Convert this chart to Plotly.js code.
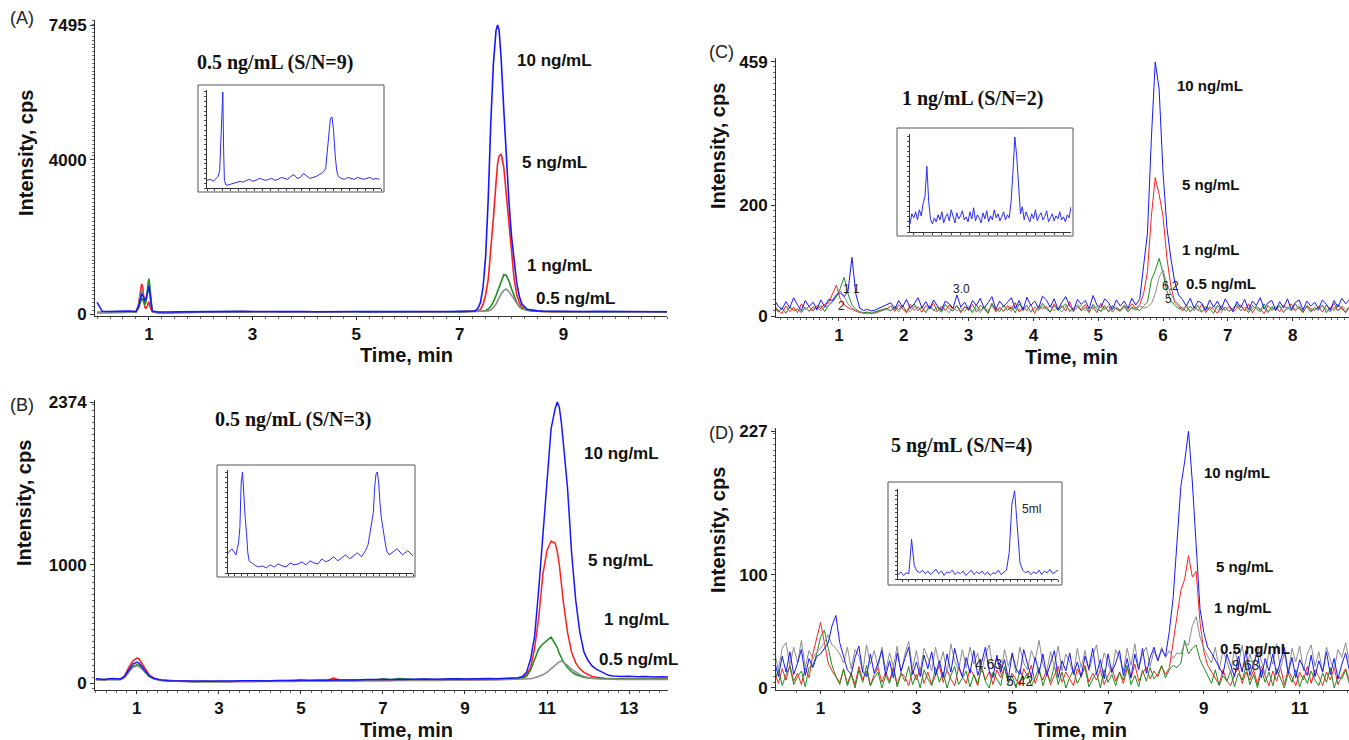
<!DOCTYPE html>
<html><head><meta charset="utf-8">
<script src="https://cdn.plot.ly/plotly-3.0.1.min.js"></script>
<style>html,body{margin:0;padding:0;background:#fff}#chart{width:1349px;height:740px}</style>
</head><body><div id="chart"></div>
<script>
// ---------------- DATA ----------------
// Panel A (time, min / intensity, cps)
const tA = [0,0.1,0.2,0.3,0.4,0.5,0.6,0.7,
 0.75,0.8,0.83,0.86,0.88,
 0.9,0.92,0.94,0.96,0.98,1.0,1.02,1.04,1.06,1.08,1.1,
 1.15,1.2,1.3,1.4,
 1.6,1.8,2.0,2.2,2.4,2.6,2.8,3.0,3.2,3.4,3.6,3.8,4.0,4.2,4.4,4.6,4.8,5.0,5.2,5.4,5.6,5.8,6.0,6.2,6.4,6.6,6.8,7.0,
 7.1,7.2,7.3,
 7.35,7.4,7.45,7.5,7.55,7.6,7.65,7.7,7.73,7.76,
 7.8,7.85,7.9,7.95,8.0,8.05,8.1,8.15,8.2,
 8.3,8.4,8.5,8.6,
 8.8,9.0,9.2,9.4,9.6,9.8,10.0,10.2,10.4,10.6,10.8,11.0];
const redA = [40,45,50,42,48,55,50,60,
 60,250,600,780,700,
 350,180,150,180,250,320,200,100,60,50,45,
 40,35,30,35,
 40,45,50,55,48,52,60,55,50,58,52,55,50,48,55,52,50,54,48,52,50,55,52,48,50,55,52,60,
 60,62,70,
 80,120,250,500,900,1600,2500,3400,3900,4100,
 4150,3800,3100,2300,1500,900,500,300,180,
 100,80,70,65,
 60,55,58,52,55,50,52,55,50,48,52,50];
const greenA = [35,40,38,45,40,42,45,50,
 50,150,300,400,380,
 300,250,280,450,750,920,700,300,120,60,50,
 40,35,30,32,
 45,50,55,60,58,55,62,58,55,60,56,52,55,50,58,55,52,50,55,52,50,54,55,50,52,58,55,62,
 60,58,62,
 60,60,70,90,130,200,320,480,600,720,
 880,1020,1000,850,650,450,300,200,140,
 100,80,70,65,
 58,55,52,55,50,52,48,50,52,48,50,48];
const grayA = [45,40,48,42,45,50,48,50,
 50,200,500,620,560,
 450,350,380,500,620,680,500,220,90,60,50,
 40,38,32,35,
 40,45,48,50,45,48,52,50,46,50,48,45,50,48,52,50,46,48,52,50,48,50,52,48,50,52,55,58,
 60,58,60,
 60,58,60,65,80,110,170,260,340,420,
 520,610,650,580,480,370,260,180,130,
 110,90,80,70,
 60,55,52,50,55,50,48,52,50,48,50,52];
const blueA = [300,70,65,72,68,70,75,70,
 60,180,400,520,500,
 430,350,380,500,650,720,550,250,100,70,60,
 55,50,45,50,
 55,60,62,65,60,70,68,65,72,66,62,68,64,60,66,62,60,65,62,60,64,66,60,62,65,60,64,68,
 65,70,80,
 150,300,700,1500,3000,5000,6500,7350,7495,7350,
 6600,5300,4000,2900,2000,1300,800,450,260,
 120,90,80,75,
 70,72,68,65,70,66,64,70,66,62,65,60];

// Panel B
const tB = [0,0.2,0.4,0.6,0.7,0.8,0.9,1.0,1.05,1.1,1.2,1.3,1.4,1.5,1.6,1.8,2.0,
 2.2,2.4,2.6,2.8,3.0,3.2,3.4,3.6,3.8,4.0,4.2,4.4,4.6,4.8,5.0,5.2,5.4,5.6,5.8,6.0,
 6.2,6.4,6.6,6.8,7.0,7.2,7.4,7.6,7.8,8.0,8.2,8.4,8.6,8.8,9.0,9.2,9.4,9.6,9.8,10.0,10.2,
 10.3,10.4,10.5,10.6,10.7,10.8,10.9,11.0,11.1,11.2,11.25,11.3,11.35,11.4,11.5,11.6,11.7,11.8,11.9,12.0,12.1,12.2,12.3,12.4,12.5,
 12.6,12.8,13.0,13.2,13.4,13.6,13.8,14.0];
const redB = [30,28,35,32,60,130,185,210,205,180,120,70,45,30,25,20,15,
 12,10,14,11,13,10,12,15,13,14,12,16,14,15,18,16,22,18,42,17,
 20,22,20,24,22,25,23,26,24,28,25,27,30,26,28,30,27,32,30,33,35,
 38,45,70,130,300,560,920,1120,1200,1180,1110,1000,830,680,430,260,170,120,90,70,55,48,42,40,38,
 36,34,35,32,34,33,35,34];
const greenB = [30,28,32,30,50,100,140,155,150,130,90,55,38,28,22,18,15,
 14,12,15,13,16,12,14,17,15,18,16,20,18,22,25,20,24,22,20,24,
 26,28,30,26,35,28,38,30,27,32,30,28,33,35,30,34,32,36,34,38,40,
 38,40,55,110,200,290,330,360,388,330,300,250,210,180,130,95,72,58,48,42,40,38,36,35,35,
 34,33,35,32,34,33,34,32];
const grayB = [28,25,30,28,45,90,130,145,140,125,95,65,40,28,22,18,14,
 10,9,11,10,12,9,11,13,12,12,11,14,12,13,15,14,16,15,17,15,
 18,17,19,18,20,19,21,20,22,21,23,22,24,23,25,24,26,25,27,28,30,
 30,30,32,35,45,58,70,90,120,150,165,180,186,175,150,115,90,70,55,45,38,35,33,32,30,
 30,29,31,30,30,29,31,30];
const blueB = [35,30,38,34,55,110,160,175,170,150,100,60,40,30,25,20,18,
 16,14,17,15,18,14,16,19,17,20,18,22,20,21,24,22,25,23,26,24,
 28,26,30,28,27,30,29,32,30,33,31,34,32,35,33,36,34,38,36,40,45,
 45,55,90,200,400,800,1250,1750,2150,2320,2374,2330,2200,2020,1650,1100,700,430,263,190,145,118,100,80,65,
 60,55,58,52,55,50,53,50];

// Panel C
const tC = [0,0.06,0.12,0.18,0.24,0.3,0.36,0.42,0.48,0.54,
 0.6,0.66,0.72,0.78,0.84,0.9,0.96,1.02,1.08,1.14,
 1.2,1.26,1.32,1.38,1.44,1.5,1.56,1.62,1.68,1.74,
 1.8,1.86,1.92,1.98,2.04,2.1,2.16,2.22,2.28,2.34,
 2.4,2.46,2.52,2.58,2.64,2.7,2.76,2.82,2.88,2.94,
 3.0,3.06,3.12,3.18,3.24,3.3,3.36,3.42,3.48,3.54,
 3.6,3.66,3.72,3.78,3.84,3.9,3.96,4.02,4.08,4.14,
 4.2,4.26,4.32,4.38,4.44,4.5,4.56,4.62,4.68,4.74,
 4.8,4.86,4.92,4.98,5.04,5.1,5.16,5.22,5.28,5.34,
 5.4,5.46,5.52,5.58,5.64,5.7,5.76,5.82,5.88,5.94,
 6.0,6.06,6.12,6.18,6.24,6.3,6.36,6.42,6.48,6.54,
 6.6,6.66,6.72,6.78,6.84,6.9,6.96,7.02,7.08,7.14,
 7.2,7.26,7.32,7.38,7.44,7.5,7.56,7.62,7.68,7.74,
 7.8,7.86,7.92,7.98,8.04,8.1,8.16,8.22,8.28,8.34,
 8.4,8.46,8.52,8.58,8.64,8.7,8.76,8.82,8.88];
const redC = [20,10,5,18,8,16,6,22,12,17,
 9,19,13,21,24,40,56,30,20,15,
 12,8,6,5,7,4,6,9,11,13,
 18,8,20,12,6,21,10,17,7,19,
 13,23,8,16,10,20,12,18,6,17,
 10,21,7,19,13,5,23,9,16,8,
 19,12,24,7,16,10,21,5,18,13,
 17,7,22,11,19,9,26,8,16,12,
 21,9,17,6,23,12,18,7,16,10,
 19,12,22,14,20,40,80,180,250,220,
 180,105,55,25,18,9,20,7,17,10,
 21,6,16,12,5,19,10,17,7,14,
 20,9,22,6,16,13,4,19,10,17,
 8,20,12,22,9,16,6,19,13,10,
 17,7,20,12,23,9,16,6,18];
const greenC = [18,8,15,5,17,10,13,7,16,9,
 17,11,19,8,20,25,35,50,70,40,
 20,12,8,6,7,5,8,10,12,14,
 9,18,11,20,7,15,22,10,17,6,
 19,10,16,7,21,13,9,19,8,16,
 14,6,20,10,17,5,22,13,8,19,
 10,17,6,22,12,19,7,16,10,23,
 13,7,19,10,16,22,8,14,20,9,
 16,6,21,12,9,19,7,17,13,10,
 19,8,16,13,10,18,25,65,82,104,
 78,45,28,20,13,16,8,18,10,19,
 7,17,13,5,19,10,16,8,14,21,
 9,16,6,19,13,8,22,7,17,12,
 19,6,16,10,22,13,7,18,9,15,
 12,20,6,16,10,21,13,7,16];
const grayC = [16,7,13,5,15,9,12,6,15,8,
 13,16,9,17,18,28,38,45,35,22,
 14,10,7,5,4,6,5,8,10,12,
 9,15,7,17,11,8,18,10,14,6,
 16,10,8,18,12,6,16,9,15,8,
 18,9,14,6,16,10,19,7,14,10,
 16,8,18,12,9,19,7,16,10,18,
 12,19,9,15,7,18,11,8,16,19,
 9,16,12,18,7,15,10,19,12,8,
 16,7,14,10,18,14,16,22,40,70,
 83,58,40,28,22,12,16,8,17,11,
 7,16,10,18,12,6,16,9,14,18,
 9,16,7,13,18,10,15,6,14,10,
 18,7,16,10,13,19,9,16,7,13,
 10,18,12,7,16,9,19,12,15];
const blueC = [30,18,12,26,15,33,20,10,28,17,
 25,12,29,16,30,28,38,42,35,45,
 106,40,14,10,12,9,11,14,18,20,
 24,12,28,16,30,14,22,33,15,26,
 13,29,18,10,27,22,14,38,16,25,
 11,28,19,32,14,24,35,12,27,17,
 26,33,13,28,11,34,19,27,14,36,
 29,16,31,12,25,35,18,10,30,21,
 28,13,37,20,15,31,24,11,29,18,
 27,14,32,20,30,90,150,320,459,410,
 260,160,105,62,38,30,18,32,14,27,
 23,10,29,16,27,12,31,19,9,26,
 15,30,11,27,19,33,13,24,28,10,
 26,15,31,12,24,29,11,27,18,25,
 13,29,21,10,28,16,32,22,30];

// Panel D
const tD = [0.04,0.12,0.2,0.28,0.36,0.44,0.52,0.6,0.68,0.76,
 0.84,0.92,1.0,1.08,1.16,1.24,1.32,1.4,1.48,1.56,
 1.64,1.72,1.8,1.88,1.96,2.04,2.12,2.2,2.28,2.36,
 2.44,2.52,2.6,2.68,2.76,2.84,2.92,3.0,3.08,3.16,
 3.24,3.32,3.4,3.48,3.56,3.64,3.72,3.8,3.88,3.96,
 4.04,4.12,4.2,4.28,4.36,4.44,4.52,4.6,4.68,4.76,
 4.84,4.92,5.0,5.08,5.16,5.24,5.32,5.4,5.48,5.56,
 5.64,5.72,5.8,5.88,5.96,6.04,6.12,6.2,6.28,6.36,
 6.44,6.52,6.6,6.68,6.76,6.84,6.92,7.0,7.08,7.16,
 7.24,7.32,7.4,7.48,7.56,7.64,7.72,7.8,7.88,7.96,
 8.04,8.12,8.2,8.28,8.36,8.44,8.52,8.6,8.68,8.76,
 8.84,8.92,9.0,9.08,9.16,9.24,9.32,9.4,9.48,9.56,
 9.64,9.72,9.8,9.88,9.96,10.04,10.12,10.2,10.28,10.36,
 10.44,10.52,10.6,10.68,10.76,10.84,10.92,11.0,11.08,11.16,
 11.24,11.32,11.4,11.48,11.56,11.64,11.72,11.8,11.88,11.96,12.04];
const redD = [14,4,17,7,20,6,13,3,18,9,
 30,45,58,40,22,15,10,5,16,4,
 13,3,19,7,15,2,12,18,5,14,
 6,19,3,13,10,2,16,7,18,4,
 14,3,11,20,5,16,8,2,18,10,
 4,17,11,2,19,7,14,3,16,9,
 18,5,13,8,2,17,10,20,4,14,
 7,16,3,11,19,5,14,8,2,17,
 10,20,5,13,7,16,3,11,18,6,
 14,4,17,9,21,6,13,18,8,15,
 10,19,12,18,40,60,86,96,117,98,
 103,58,32,20,14,8,3,16,6,2,
 12,18,4,14,7,16,3,19,10,2,
 15,6,18,3,16,9,2,14,7,19,
 4,16,10,2,14,7,18,3,11,17,6];
const greenD = [6,16,2,12,19,3,10,15,1,18,
 20,30,45,51,35,20,10,3,17,2,
 12,0,16,5,20,2,9,14,0,11,
 4,17,1,13,6,19,3,12,0,16,
 8,2,18,5,14,0,11,19,3,9,
 15,1,12,4,18,6,0,14,8,2,
 19,4,11,0,16,7,13,2,9,18,
 2,12,6,20,3,14,0,9,16,4,
 11,18,1,8,14,0,16,5,12,2,
 14,7,20,3,11,1,16,6,18,8,
 12,20,9,16,20,18,22,42,30,35,
 38,25,18,10,4,16,2,11,6,15,
 1,13,7,19,3,12,0,16,5,14,
 2,17,8,0,13,5,16,1,11,4,
 15,7,2,13,5,18,0,10,8,16,3];
const grayD = [32,16,35,40,20,36,22,42,18,33,
 26,32,35,40,47,38,35,30,22,36,
 17,34,28,14,38,21,33,18,36,15,
 31,19,37,13,30,41,17,33,14,35,
 27,15,36,20,32,13,39,24,16,34,
 18,36,21,31,14,29,38,17,27,12,
 34,19,30,13,36,22,16,33,24,42,
 21,14,32,19,37,15,30,23,12,35,
 18,33,15,28,38,16,31,22,13,34,
 27,15,35,20,39,17,30,36,19,33,
 24,36,27,33,26,31,30,40,38,55,
 63,45,35,28,22,36,16,33,24,13,
 35,20,38,15,30,18,37,24,12,33,
 21,39,17,31,13,35,23,37,15,30,
 38,19,32,14,36,25,16,34,27,40,22];
const blueD = [24,10,28,14,32,12,22,34,11,26,
 18,28,30,35,40,55,64,40,28,16,
 12,27,37,14,10,30,13,22,33,11,
 24,9,31,15,26,36,12,23,10,29,
 17,32,11,24,9,30,14,35,20,10,
 27,13,33,11,22,36,15,9,29,14,
 25,8,31,17,12,34,21,10,27,13,
 30,11,22,33,9,24,15,31,12,23,
 10,28,17,35,12,25,8,30,14,22,
 33,11,26,9,30,16,35,13,27,36,
 24,34,28,50,80,125,178,200,227,182,
 125,70,49,36,31,25,18,12,30,20,
 10,28,14,33,11,22,31,9,26,15,
 30,12,23,36,13,27,9,25,18,11,
 29,10,24,14,32,12,26,8,21,31,15];

// Inset chromatograms (lowest concentration, relative intensity)
const tAi = [0,0.2,0.4,0.6,0.7,0.8,0.9,0.95,1.0,1.05,1.1,1.2,1.3,
 1.5,1.7,1.9,2.1,2.3,2.5,2.7,2.9,3.1,3.3,3.5,3.7,3.9,4.1,4.3,4.5,4.7,4.9,5.1,5.3,
 5.5,5.7,5.9,6.1,6.3,6.5,6.7,6.9,7.1,7.3,7.5,
 7.6,7.7,7.8,7.9,8.0,8.1,8.2,8.3,
 8.5,8.7,8.9,9.1,9.3,9.5,9.7,9.9,10.1,10.3,10.5,10.7,10.9];
const vAi = [8,9,7,10,12,18,60,95,100,40,8,3,3,
 4,5,6,7,6,8,9,7,8,10,9,8,9,10,8,9,11,10,9,12,
 14,10,11,15,12,10,11,12,14,16,20,
 35,55,72,74,60,35,18,12,
 10,9,11,10,9,11,10,9,10,11,9,10,9];
const tBi = [0,0.3,0.6,0.8,0.9,1.0,1.1,1.2,1.3,1.4,1.5,1.6,1.8,
 2.0,2.3,2.6,2.9,3.2,3.5,3.8,4.1,4.4,4.7,5.0,5.3,5.6,5.9,6.2,6.5,6.8,7.1,7.4,7.7,
 8.0,8.3,8.6,8.9,9.2,9.5,9.8,10.1,10.4,
 10.6,10.8,11.0,11.1,11.2,11.3,11.4,11.5,11.6,11.8,12.0,12.2,
 12.4,12.8,13.2,13.6,14.0];
const vBi = [20,24,18,30,45,90,100,70,55,40,20,12,10,
 8,6,7,5,8,6,9,7,6,10,8,9,11,8,12,10,9,14,11,13,
 16,12,15,18,14,17,20,16,22,
 28,45,60,85,98,100,90,70,55,38,22,18,
 20,24,18,22,17];
const tCi = [0.3,0.4,0.5,0.6,0.7,0.8,0.9,1.0,1.1,1.2,
 1.3,1.4,1.5,1.6,1.7,1.8,1.9,2.0,2.1,2.2,
 2.3,2.4,2.5,2.6,2.7,2.8,2.9,3.0,3.1,3.2,
 3.3,3.4,3.5,3.6,3.7,3.8,3.9,4.0,4.1,4.2,
 4.3,4.4,4.5,4.6,4.7,4.8,4.9,5.0,5.1,5.2,
 5.3,5.4,5.5,5.6,5.7,5.8,5.9,6.0,6.1,6.2,
 6.3,6.4,6.5,6.6,6.7,6.8,6.9,7.0,7.1,7.2,
 7.3,7.4,7.5,7.6,7.7,7.8,7.9,8.0,8.1,8.2,
 8.3,8.4,8.5,8.6,8.7,8.8,8.9];
const vCi = [8,18,14,20,12,22,16,28,35,65,
 30,12,8,14,10,17,12,20,9,15,
 18,11,22,14,9,19,13,16,21,12,
 15,10,20,13,24,11,17,14,9,19,
 13,21,10,16,12,22,14,18,11,15,
 20,12,17,14,30,60,94,75,40,18,
 25,12,20,15,10,18,13,22,11,16,
 19,12,15,21,10,14,18,11,16,13,
 20,12,15,10,17,14,25];
const tDi = [0.2,0.4,0.6,0.8,1.0,1.2,1.4,1.6,1.8,2.0,
 2.2,2.4,2.6,2.8,3.0,3.2,3.4,3.6,3.8,4.0,
 4.2,4.4,4.6,4.8,5.0,5.2,5.4,5.6,5.8,6.0,
 6.2,6.4,6.6,6.8,7.0,7.2,7.4,7.6,7.8,8.0,
 8.2,8.4,8.6,8.8,9.0,9.2,9.4,9.6,9.8,10.0,
 10.2,10.4,10.6,10.8,11.0,11.2,11.4,11.6,11.8,12.0];
const vDi = [5,8,4,7,6,45,15,9,7,10,
 6,9,5,8,11,6,9,4,8,7,
 10,5,8,6,9,4,7,10,5,8,
 6,9,5,8,4,7,6,10,5,8,
 10,30,85,100,55,18,10,7,9,5,
 8,6,10,5,9,7,11,6,8,10];

// Tick labels
const xTicksA = [1,3,5,7,9], yTicksA = [0,4000,7495];
const xTicksB = [1,3,5,7,9,11,13], yTicksB = [0,1000,2374];
const xTicksC = [1,2,3,4,5,6,7,8], yTicksC = [0,200,459];
const xTicksD = [1,3,5,7,9,11], yTicksD = [0,100,227];

// Text
const panelTags = ['(A)','(B)','(C)','(D)'];
const panelTitles = ['0.5 ng/mL (S/N=9)','0.5 ng/mL (S/N=3)','1 ng/mL (S/N=2)','5 ng/mL (S/N=4)'];
const concLabels = ['10 ng/mL','5 ng/mL','1 ng/mL','0.5 ng/mL'];
const xTitle = 'Time, min', yTitle = 'Intensity, cps';
const peakLabelsC = ['3.0','1','1','2','6.2','5'];
const peakLabelsD = ['4.63','5.42','9.63'];
const insetDLabel = '5ml';

// ---------------- DRAWING ----------------
const W = 1349, H = 740;
const px = x => x / W, py = y => 1 - y / H;
const COL = {red:'#ff1f1f', green:'#1e8a1e', gray:'#8c8c8c', blue:'#1616ff'};
const data = [];
function addPanel(t, r, g, gr, b, xa, ya, w) {
  [[r,COL.red],[g,COL.green],[gr,COL.gray],[b,COL.blue]].forEach(([y,c]) => {
    data.push({type:'scatter', mode:'lines', x:t, y:y, xaxis:xa, yaxis:ya,
      line:{color:c, width:w, shape:'linear'}, hoverinfo:'skip', showlegend:false});
  });
}
addPanel(tA, redA, greenA, grayA, blueA, 'x', 'y', 1.6);
addPanel(tB, redB, greenB, grayB, blueB, 'x2', 'y2', 1.5);
addPanel(tC, redC, greenC, grayC, blueC, 'x3', 'y3', 1);
addPanel(tD, redD, greenD, grayD, blueD, 'x4', 'y4', 1);
[[tAi,vAi,'x5','y5'],[tBi,vBi,'x6','y6'],[tCi,vCi,'x7','y7'],[tDi,vDi,'x8','y8']].forEach(([t,v,xa,ya]) => {
  data.push({type:'scatter', mode:'lines', x:t, y:v, xaxis:xa, yaxis:ya,
    line:{color:'#2a2aff', width:1}, hoverinfo:'skip', showlegend:false});
});

const tickFont = {family:'Liberation Sans, Arial, sans-serif', size:17, weight:700, color:'#111'};
function xAxis(d0, d1, range, ticks, minorD, anchor) {
  return {domain:[px(d0), px(d1)], range:range, anchor:anchor, tickmode:'array', tickvals:ticks,
    showline:true, linecolor:'#333', linewidth:1, ticks:'outside', ticklen:3, tickcolor:'#333',
    tickfont:tickFont, showgrid:false, zeroline:false, fixedrange:true,
    minor:{tickmode:'linear', tick0:0, dtick:minorD, ticks:'outside', ticklen:2, tickcolor:'#666', showgrid:false}};
}
function yAxis(top, bottom, range, ticks, minorD, anchor) {
  return {domain:[py(bottom), py(top)], range:range, anchor:anchor, tickmode:'array', tickvals:ticks,
    showline:true, linecolor:'#333', linewidth:1, ticks:'outside', ticklen:4, tickcolor:'#333',
    tickfont:tickFont, showgrid:false, zeroline:false, fixedrange:true,
    minor:{tickmode:'linear', tick0:0, dtick:minorD, ticks:'outside', ticklen:2, tickcolor:'#666', showgrid:false}};
}
function insetX(d0, d1, range, anchor) {
  return {domain:[px(d0), px(d1)], range:range, anchor:anchor, showline:true, linecolor:'#333', linewidth:1,
    ticks:'outside', ticklen:2, tickcolor:'#444', dtick:0.5, showticklabels:false, showgrid:false, zeroline:false};
}
function insetY(top, bottom, range, anchor) {
  return {domain:[py(bottom), py(top)], range:range, anchor:anchor, showline:true, linecolor:'#333', linewidth:1,
    ticks:'outside', ticklen:2, tickcolor:'#444', dtick:5, showticklabels:false, showgrid:false, zeroline:false};
}

const layout = {
  width:W, height:H, margin:{l:0,r:0,t:0,b:0}, paper_bgcolor:'#fff', plot_bgcolor:'rgba(0,0,0,0)', showlegend:false,
  xaxis:  xAxis(95, 667, [-0.04, 11.0], xTicksA, 0.25, 'y'),
  yaxis:  yAxis(20, 316, [-52, 7625], yTicksA, 100, 'x'),
  xaxis2: xAxis(95, 668, [-0.02, 13.95], xTicksB, 0.25, 'y2'),
  yaxis2: yAxis(400, 690, [-59, 2391], yTicksB, 50, 'x2'),
  xaxis3: xAxis(776, 1349, [0.028, 8.87], xTicksC, 0.1, 'y3'),
  yaxis3: yAxis(58, 317, [-1.8, 466], yTicksC, 10, 'x3'),
  xaxis4: xAxis(776, 1349, [0.07, 12.03], xTicksD, 0.5, 'y4'),
  yaxis4: yAxis(428, 690, [-1.8, 229.7], yTicksD, 5, 'x4'),
  xaxis5: insetX(207, 381, [0, 11], 'y5'),
  yaxis5: insetY(90, 188, [0, 102], 'x5'),
  xaxis6: insetX(228, 413, [0, 14], 'y6'),
  yaxis6: insetY(470, 573, [0, 102], 'x6'),
  xaxis7: insetX(910, 1071, [0.3, 8.9], 'y7'),
  yaxis7: insetY(134, 232, [0, 97], 'x7'),
  xaxis8: insetX(898, 1058, [0.2, 12.0], 'y8'),
  yaxis8: insetY(489, 579, [0, 102], 'x8'),
  shapes: [
    [198,85,384,192],[217,465,415,577],[897,128,1073,236],[888,482,1062,585]
  ].map(([x0,y0,x1,y1]) => ({type:'rect', xref:'paper', yref:'paper', x0:px(x0), x1:px(x1), y0:py(y1), y1:py(y0),
      line:{color:'#555', width:1}, fillcolor:'rgba(0,0,0,0)'})),
  annotations: []
};

const A = layout.annotations;
function txt(text, x, y, o) {
  A.push(Object.assign({text:text, x:px(x), y:py(y), xref:'paper', yref:'paper', showarrow:false,
    xanchor:'left', yanchor:'middle'}, o));
}
const sansB = s => ({family:'Liberation Sans, Arial, sans-serif', size:s, weight:700, color:'#111'});
const serifB = s => ({family:'Liberation Serif, Times New Roman, serif', size:s, weight:700, color:'#111'});
const sansR = s => ({family:'Liberation Sans, Arial, sans-serif', size:s, color:'#222'});

// panel tags
[[8,18],[8,405],[707,52],[707,433]].forEach(([x,y],i) => txt(panelTags[i], x, y, {font:sansR(18)}));
// panel titles
[[195,62],[213,419],[900,99],[889,445]].forEach(([x,y],i) => txt(panelTitles[i], x, y, {font:serifB(20)}));
// concentration labels
const concPos = [
  [[515,60],[520,163],[525,265],[534,298]],
  [[582,453],[586,560],[602,619],[597,659]],
  [[1175,85],[1180,184],[1180,249],[1184,283]],
  [[1202,472],[1214,566],[1212,607],[1218,648]]
];
const concSize = [17,17,15,15];
concPos.forEach((list,p) => list.forEach(([x,y],i) => txt(concLabels[i], x, y, {font:sansB(concSize[p])})));
// axis titles
[[406,355],[406,730],[1071,357],[1080,730]].forEach(([x,y]) => txt(xTitle, x, y, {xanchor:'center', font:sansB(20)}));
[[26,153],[24,503],[718,146],[718,530]].forEach(([x,y]) => txt(yTitle, x, y, {xanchor:'center', textangle:-90, font:sansB(20)}));
// small peak labels
[[961,289],[846,289],[857,289],[841,306],[1170,286],[1168,299]].forEach(([x,y],i) => txt(peakLabelsC[i], x, y, {xanchor:'center', font:sansR(12)}));
[[988,664],[1019,681],[1245,665]].forEach(([x,y],i) => txt(peakLabelsD[i], x, y, {xanchor:'center', font:sansR(14)}));
txt(insetDLabel, 1031, 509, {xanchor:'center', font:sansR(12)});

Plotly.newPlot('chart', data, layout, {staticPlot:true, displayModeBar:false});
</script>
</body></html>
